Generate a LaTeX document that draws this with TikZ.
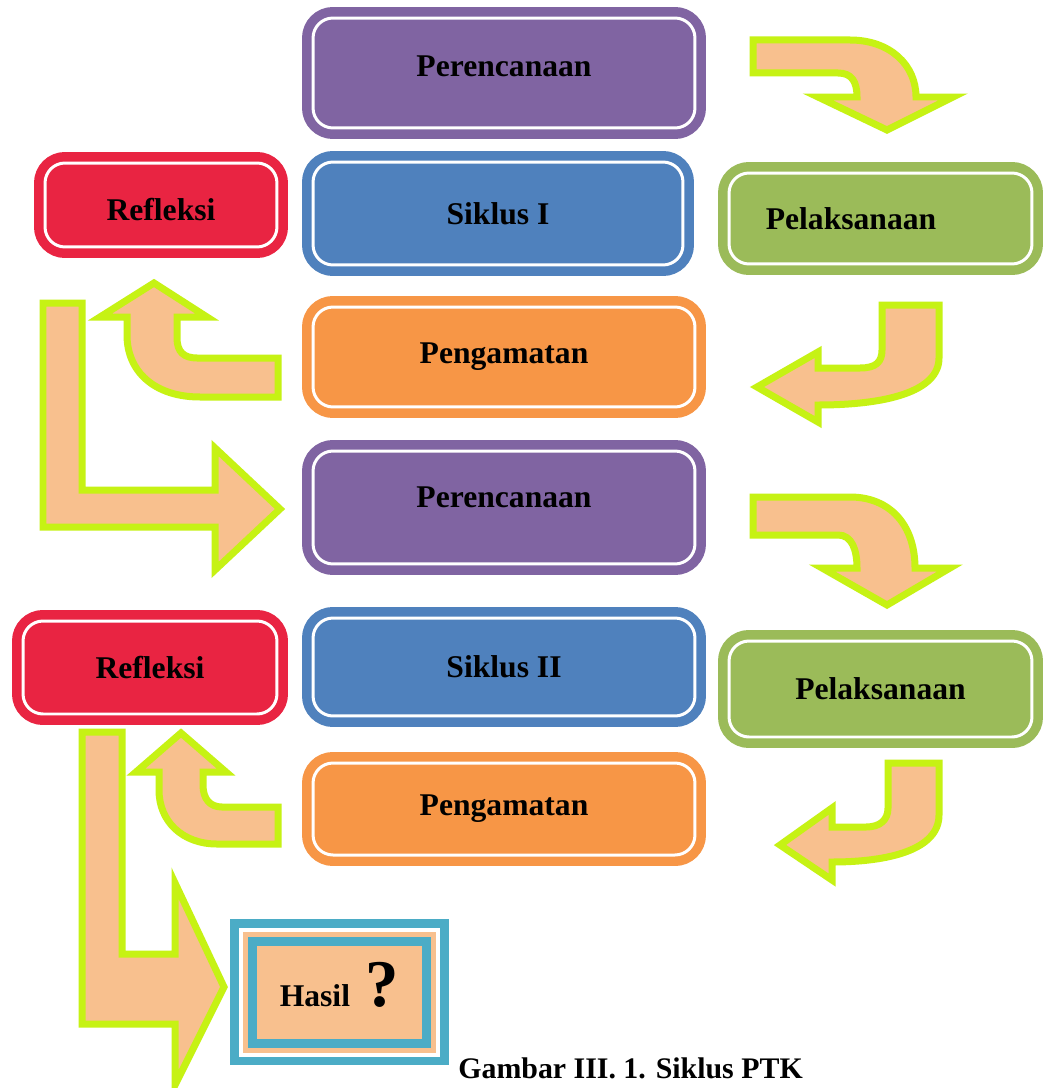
\documentclass[tikz,border=0pt]{standalone}
\usepackage{fontspec}
\setmainfont{Liberation Serif}

\definecolor{ungu}{HTML}{8064A2}
\definecolor{biru}{HTML}{4F81BD}
\definecolor{merah}{HTML}{E92442}
\definecolor{hijau}{HTML}{9BBB59}
\definecolor{oranye}{HTML}{F79646}
\definecolor{krem}{HTML}{F8C08E}
\definecolor{limau}{HTML}{C6F214}
\definecolor{toska}{HTML}{4BACC6}

\begin{document}
\begin{tikzpicture}[x=0.02cm,y=-0.02cm,
		kotak/.style={rectangle,rounded corners=0.4cm,inner sep=0pt,
			fill=#1,draw=white,line width=0.06cm,
			preaction={draw=#1,line width=0.44cm},
			font=\bfseries\fontsize{18}{20}\selectfont},
		panah/.style={fill=krem,draw=limau,line width=0.14cm,line join=miter}]
		\useasboundingbox[fill=white] (0,0) rectangle (1043,1088);
		
		% siklus I
		\node[kotak=ungu,minimum width=7.64cm,minimum height=2.2cm,text depth=0.28cm] (per1) at (504,73) {Perencanaan};
		\node[kotak=biru,minimum width=7.4cm,minimum height=2.06cm] (sik1) at (498,213.5) {Siklus I};
		\node[kotak=merah,minimum width=4.64cm,minimum height=1.68cm,text height=0.62cm] (ref1) at (161,205) {Refleksi};
		\node[kotak=hijau,minimum width=6.06cm,minimum height=1.82cm] (pel1) at (880.5,218.5) {Pelaksanaan\hspace*{1.18cm}};
		\node[kotak=oranye,minimum width=7.64cm,minimum height=2cm] (pen1) at (504,357) {Pengamatan};
		
		% siklus II
		\node[kotak=ungu,minimum width=7.64cm,minimum height=2.26cm,text depth=0.42cm] (per2) at (504,507.5) {Perencanaan};
		\node[kotak=biru,minimum width=7.64cm,minimum height=1.96cm] (sik2) at (504,667) {Siklus II};
		\node[kotak=merah,minimum width=5.08cm,minimum height=1.86cm] (ref2) at (150,667.5) {Refleksi};
		\node[kotak=hijau,minimum width=6.06cm,minimum height=1.92cm] (pel2) at (880.5,689) {Pelaksanaan};
		\node[kotak=oranye,minimum width=7.64cm,minimum height=1.84cm] (pen2) at (504,809) {Pengamatan};
		
		% hasil
		\node[rectangle,inner sep=0pt,minimum width=3.48cm,minimum height=2.03cm,text depth=0.3cm,
			preaction={draw=toska,line width=0.9cm},
			preaction={draw=white,line width=0.54cm},
			preaction={draw=krem,line width=0.38cm},
			fill=krem,draw=toska,line width=0.18cm,
			font=\bfseries\fontsize{18}{20}\selectfont] (hasil) at (339.5,992.25)
			{Hasil\ \ {\fontsize{38}{38}\selectfont ?}};
		
		% panah siklus I
		\draw[panah] (753,40)--(850,40) .. controls (890,40) and (916,65) .. (916,97)
			--(953,97)--(887,130)--(818,97)--(857,97)
			.. controls (857,82) and (852,73) .. (838,73)--(753,73)--cycle;
		\draw[panah] (882,305)--(939,305)--(939,358) .. controls (939,392) and (885,405) .. (818,405)
			--(818,422)--(757,387)--(818,352)--(818,368)--(860,368)
			.. controls (876,368) and (882,362) .. (882,350)--cycle;
		\draw[panah] (278,358)--(278,397)--(200,397) .. controls (155,397) and (127,372) .. (127,335)
			--(127,317)--(100,317)--(154,283)--(207,317)--(177,317)--(177,338)
			.. controls (177,352) and (184,358) .. (197,358)--cycle;
		\draw[panah] (43,303)--(82,303)--(82,490)--(215,490)--(215,448)
			--(280,509)--(215,570)--(215,527)--(43,527)--cycle;
		
		% panah siklus II
		\draw[panah] (753,497)--(850,497) .. controls (890,497) and (915,525) .. (915,568)
			--(950,568)--(887,605)--(822,568)--(857,568)
			.. controls (857,550) and (852,535) .. (838,535)--(753,535)--cycle;
		\draw[panah] (888,763)--(939,763)--(939,815) .. controls (939,850) and (888,862) .. (832,862)
			--(832,880)--(780,845)--(832,808)--(832,827)--(866,827)
			.. controls (880,827) and (888,820) .. (888,808)--cycle;
		\draw[panah] (278,807)--(278,844)--(217,844) .. controls (183,844) and (159,822) .. (159,790)
			--(159,772)--(136,772)--(181,733)--(226,772)--(203,772)--(203,785)
			.. controls (203,799) and (210,807) .. (222,807)--cycle;
		\draw[panah] (82,732)--(122,732)--(122,954)--(175,954)--(175,883)
			--(224,987)--(175,1085)--(175,1024)--(82,1024)--cycle;
		
		\node[anchor=base west,inner sep=0pt,font=\bfseries\fontsize{17}{19}\selectfont] (judul) at (458,1078) {Gambar III. 1. Siklus PTK};
	\end{tikzpicture}
\end{document}
